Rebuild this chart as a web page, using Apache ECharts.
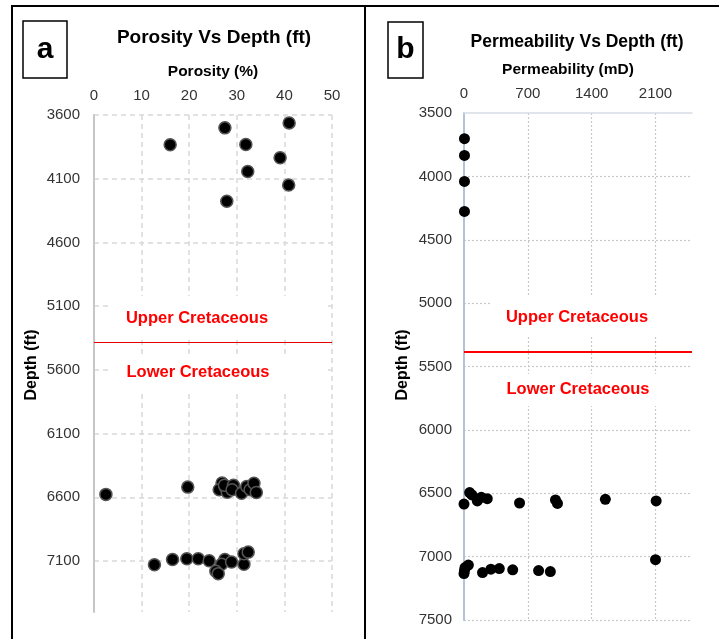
<!DOCTYPE html>
<html>
<head>
<meta charset="utf-8">
<script src="https://cdn.jsdelivr.net/npm/echarts@6/dist/echarts.min.js"></script>
<style>
  html, body { margin: 0; padding: 0; background: #fff; }
  #chart { width: 719px; height: 639px; }
</style>
</head>
<body>
<div id="chart"></div>
<script>
// Porosity (%) and depth (ft) samples
const porosityUpper = [
  [41.0, 3662], [27.5, 3701], [16.0, 3834], [31.9, 3832],
  [39.1, 3936], [32.3, 4043], [40.9, 4150], [27.9, 4277]
];
const porosityLower = [
  [2.5, 6577], [19.7, 6520],
  [26.9, 6488], [26.3, 6540], [27.6, 6520], [28.0, 6560], [27.4, 6505],
  [29.3, 6505], [29.0, 6540], [31.0, 6568], [32.1, 6515], [32.8, 6540],
  [33.6, 6490], [34.1, 6562],
  [12.7, 7129], [16.5, 7088], [19.5, 7082], [21.9, 7082], [24.2, 7098],
  [27.5, 7088], [26.8, 7126], [28.9, 7108], [31.5, 7126], [31.5, 7043],
  [32.4, 7030], [25.6, 7181], [26.1, 7199]
];

// Permeability (mD) and depth (ft) samples
const permUpper = [
  [5, 3703], [5, 3835], [5, 4040], [5, 4277]
];
const permLower = [
  [0, 6585], [62, 6495], [87, 6513], [146, 6561], [190, 6532], [255, 6543],
  [609, 6577], [1003, 6553], [1025, 6580], [1550, 6548], [2107, 6561],
  [2100, 7024], [0, 7134], [11, 7086], [48, 7067], [5, 7110], [203, 7126],
  [295, 7099], [387, 7094], [534, 7104], [818, 7110], [947, 7118]
];

// Boundary between Upper and Lower Cretaceous (ft)
const boundaryDepth = 5380;

// Axis settings
const porosityTicks = { min: 0, max: 50, interval: 10 };
const depthTicksA = { min: 3600, max: 7500, interval: 500 };
const permTicks = { min: 0, max: 2500, interval: 700 };
const depthTicksB = { min: 3500, max: 7500, interval: 500 };

const FONT = '"Liberation Sans", Arial, sans-serif';
const plain = v => String(v);
const tickLabel = { fontFamily: FONT, fontSize: 15, color: '#333', formatter: plain };

const chart = echarts.init(document.getElementById('chart'), null, { renderer: 'canvas' });

function txt(x, y, text, size, color, extra) {
  return Object.assign({
    type: 'text', x: x, y: y, z: 110,
    style: {
      text: text, fontFamily: FONT, fontWeight: 'bold', fontSize: size,
      fill: color || '#000', align: 'center', verticalAlign: 'middle'
    }
  }, extra || {});
}
function whiteBox(x, y, w, h) {
  return { type: 'rect', z: 105, shape: { x: x, y: y, width: w, height: h }, style: { fill: '#fff' } };
}

const option = {
  animation: false,
  backgroundColor: '#fff',
  grid: [
    { left: 94, top: 115, width: 238, height: 497 },
    { left: 464, top: 113, width: 228, height: 507 }
  ],
  xAxis: [
    {
      gridIndex: 0, type: 'value', position: 'top',
      min: porosityTicks.min, max: porosityTicks.max, interval: porosityTicks.interval,
      axisLine: { show: false }, axisTick: { show: false },
      axisLabel: Object.assign({ margin: 12 }, tickLabel),
      splitLine: { show: true, showMinLine: false, lineStyle: { color: '#d9d9d9', type: [5, 4], width: 1.5 } }
    },
    {
      gridIndex: 1, type: 'value', position: 'top',
      min: permTicks.min, max: permTicks.max, interval: permTicks.interval,
      axisLine: { show: true, lineStyle: { color: '#d6dce5', width: 1.5 } }, axisTick: { show: false },
      axisLabel: Object.assign({ margin: 12, showMaxLabel: false }, tickLabel),
      splitLine: { show: true, showMinLine: false, showMaxLine: false, lineStyle: { color: '#c8c8c8', type: [2, 2], width: 1.2 } }
    }
  ],
  yAxis: [
    {
      gridIndex: 0, type: 'value', inverse: true,
      min: depthTicksA.min, max: depthTicksA.max, interval: depthTicksA.interval,
      axisLine: { show: true, lineStyle: { color: '#c6c6c6', width: 2 } }, axisTick: { show: false },
      axisLabel: Object.assign({ margin: 14, showMaxLabel: false }, tickLabel),
      splitLine: { show: true, showMaxLine: false, lineStyle: { color: '#d9d9d9', type: [5, 4], width: 1.5 } }
    },
    {
      gridIndex: 1, type: 'value', inverse: true,
      min: depthTicksB.min, max: depthTicksB.max, interval: depthTicksB.interval,
      axisLine: { show: true, lineStyle: { color: '#b4c4d8', width: 2 } }, axisTick: { show: false },
      axisLabel: Object.assign({ margin: 12 }, tickLabel),
      splitLine: { show: true, showMinLine: false, lineStyle: { color: '#c8c8c8', type: [2, 2], width: 1.2 } }
    }
  ],
  series: [
    {
      type: 'scatter', xAxisIndex: 0, yAxisIndex: 0, z: 20,
      data: porosityUpper.concat(porosityLower),
      symbolSize: 12,
      itemStyle: { color: '#000', opacity: 1, borderColor: '#555', borderWidth: 1.5 },
      markLine: {
        silent: true, symbol: 'none', label: { show: false },
        lineStyle: { color: '#e00000', width: 1, type: 'solid' },
        data: [{ yAxis: boundaryDepth }]
      }
    },
    {
      type: 'scatter', xAxisIndex: 1, yAxisIndex: 1, z: 20,
      data: permUpper.concat(permLower),
      symbolSize: 11,
      itemStyle: { color: '#000', opacity: 1 },
      markLine: {
        silent: true, symbol: 'none', label: { show: false },
        lineStyle: { color: '#ff0000', width: 2, type: 'solid' },
        data: [{ yAxis: boundaryDepth }]
      }
    }
  ],
  graphic: [
    // panel frames
    { type: 'rect', z: 120, shape: { x: 12, y: 6, width: 353, height: 700 }, style: { fill: null, stroke: '#000', lineWidth: 2 } },
    { type: 'line', z: 120, shape: { x1: 365, y1: 6, x2: 730, y2: 6 }, style: { stroke: '#000', lineWidth: 2 } },
    // panel letters
    { type: 'rect', z: 120, shape: { x: 23, y: 21, width: 44, height: 57 }, style: { fill: '#fff', stroke: '#000', lineWidth: 1.5 } },
    txt(45, 50, 'a', 30, '#000', { z: 121 }),
    { type: 'rect', z: 120, shape: { x: 388, y: 22, width: 35, height: 56 }, style: { fill: '#fff', stroke: '#000', lineWidth: 1.5 } },
    txt(405.5, 50, 'b', 30, '#000', { z: 121 }),
    // titles
    txt(214, 38, 'Porosity Vs Depth (ft)', 19),
    txt(213, 72, 'Porosity (%)', 15.5),
    txt(577, 42, 'Permeability Vs Depth (ft)', 17.5),
    txt(568, 70, 'Permeability (mD)', 15.5),
    // depth axis names
    txt(32, 365, 'Depth (ft)', 16, '#000', { rotation: Math.PI / 2 }),
    txt(403, 365, 'Depth (ft)', 16, '#000', { rotation: Math.PI / 2 }),
    // formation labels on white boxes
    whiteBox(112, 296, 213, 40),
    whiteBox(112, 355, 213, 37),
    whiteBox(492, 296, 198, 40),
    whiteBox(492, 374, 198, 32),
    txt(197, 318, 'Upper Cretaceous', 16.5, '#ff0000'),
    txt(198, 372, 'Lower Cretaceous', 16.5, '#ff0000'),
    txt(577, 317, 'Upper Cretaceous', 16.5, '#ff0000'),
    txt(578, 389, 'Lower Cretaceous', 16.5, '#ff0000')
  ]
};

chart.setOption(option);
</script>
</body>
</html>
